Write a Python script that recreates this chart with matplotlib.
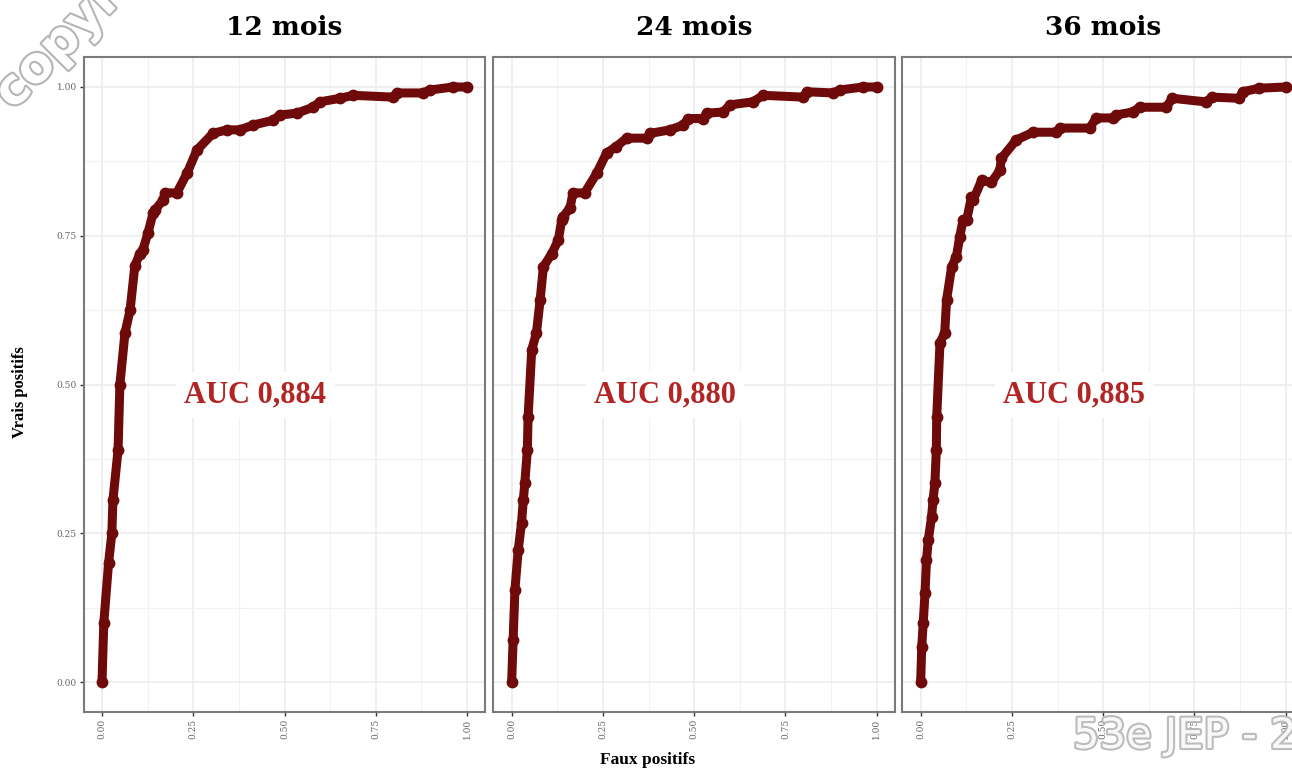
import numpy as np
import matplotlib as mpl
mpl.use('Agg')
import matplotlib.pyplot as plt
import matplotlib.patheffects as pe
from matplotlib.ticker import MultipleLocator

# ROC curves, one per follow-up horizon

titles = ['12 mois', '24 mois', '36 mois']
auc_labels = ['AUC 0,884', 'AUC 0,880', 'AUC 0,885']

fpr_12 = [0.0, 0.005, 0.018, 0.027, 0.03, 0.044, 0.049, 0.063, 0.077, 0.09, 0.104,
          0.112, 0.126, 0.14, 0.145, 0.167, 0.173, 0.205, 0.233, 0.26, 0.304,
          0.342, 0.378, 0.414, 0.468, 0.488, 0.534, 0.578, 0.597, 0.652, 0.688,
          0.797, 0.808, 0.879, 0.899, 0.962, 1.0]
tpr_12 = [0.0, 0.10, 0.20, 0.25, 0.306, 0.39, 0.50, 0.587, 0.625, 0.70, 0.72,
          0.726, 0.755, 0.788, 0.793, 0.81, 0.822, 0.822, 0.855, 0.894, 0.922,
          0.928, 0.928, 0.936, 0.944, 0.953, 0.956, 0.966, 0.975, 0.981, 0.986,
          0.983, 0.990, 0.990, 0.995, 1.0, 1.0]

fpr_24 = [0.0, 0.004, 0.009, 0.018, 0.027, 0.032, 0.036, 0.043, 0.045, 0.055,
          0.068, 0.078, 0.087, 0.11, 0.128, 0.137, 0.141, 0.16, 0.168, 0.2,
          0.233, 0.26, 0.287, 0.315, 0.37, 0.379, 0.434, 0.47, 0.484, 0.525,
          0.534, 0.58, 0.598, 0.661, 0.689, 0.799, 0.808, 0.881, 0.899, 0.963, 1.0]
tpr_24 = [0.0, 0.07, 0.155, 0.222, 0.267, 0.306, 0.334, 0.39, 0.445, 0.558,
          0.587, 0.642, 0.698, 0.72, 0.743, 0.776, 0.782, 0.797, 0.822, 0.822,
          0.855, 0.889, 0.90, 0.914, 0.914, 0.922, 0.928, 0.936, 0.947, 0.947,
          0.956, 0.958, 0.97, 0.975, 0.986, 0.983, 0.992, 0.99, 0.995, 1.0, 1.0]

fpr_36 = [0.0, 0.003, 0.007, 0.012, 0.016, 0.021, 0.03, 0.034, 0.039, 0.043,
          0.044, 0.053, 0.066, 0.071, 0.085, 0.098, 0.107, 0.116, 0.126, 0.139,
          0.144, 0.167, 0.194, 0.217, 0.221, 0.262, 0.308, 0.372, 0.381, 0.463,
          0.481, 0.526, 0.536, 0.581, 0.6, 0.672, 0.69, 0.781, 0.799, 0.873,
          0.882, 0.928, 1.0]
tpr_36 = [0.0, 0.059, 0.099, 0.15, 0.205, 0.239, 0.278, 0.306, 0.334, 0.39,
          0.445, 0.57, 0.587, 0.642, 0.698, 0.715, 0.748, 0.776, 0.776, 0.815,
          0.81, 0.843, 0.84, 0.86, 0.88, 0.911, 0.924, 0.924, 0.931, 0.931,
          0.948, 0.948, 0.953, 0.958, 0.966, 0.966, 0.981, 0.975, 0.983, 0.981,
          0.992, 0.998, 1.0]

curves = [(fpr_12, tpr_12), (fpr_24, tpr_24), (fpr_36, tpr_36)]
ticks = [0.0, 0.25, 0.5, 0.75, 1.0]
tick_labels = ['0.00', '0.25', '0.50', '0.75', '1.00']

W, H = 1292, 771
fig = plt.figure(figsize=(W / 100, H / 100), dpi=100)

curve_col = '#6e0a0a'
auc_col = '#b32424'
lefts = [83.75, 493.4, 902.4]
pw, ph = 401.5, 654.5
top = 57.25

for i, (fpr, tpr) in enumerate(curves):
    ax = fig.add_axes([lefts[i] / W, 1 - (top + ph) / H, pw / W, ph / H])
    ax.set_xlim(-0.05, 1.05)
    ax.set_ylim(-0.05, 1.05)
    ax.xaxis.set_minor_locator(MultipleLocator(0.125))
    ax.yaxis.set_minor_locator(MultipleLocator(0.125))
    ax.grid(True, which='major', color='#ebebeb', lw=1.1)
    ax.grid(True, which='minor', color='#f2f2f2', lw=0.8)
    ax.set_axisbelow(True)
    ax.tick_params(which='minor', length=0)
    ax.tick_params(which='major', length=3, width=1, color='#333333',
                   labelsize=6.5, labelcolor='#666666', pad=2)
    ax.set_xticks(ticks)
    ax.set_xticklabels(tick_labels, rotation=90, family='DejaVu Serif')
    ax.set_yticks(ticks)
    if i == 0:
        ax.set_yticklabels(tick_labels, family='DejaVu Serif')
    else:
        ax.set_yticklabels([])
        ax.tick_params(axis='y', length=0)
    for s in ax.spines.values():
        s.set_color('#7a7a7a')
        s.set_linewidth(1.5)

    ax.plot(fpr, tpr, color=curve_col, lw=6.5, solid_capstyle='round',
            solid_joinstyle='round', marker='o', ms=7.5, mec=curve_col,
            mfc=curve_col)
    ax.text(0.42, 0.482, auc_labels[i], color=auc_col, fontsize=22,
            fontweight='bold', family='Liberation Serif', ha='center', va='center',
            bbox=dict(facecolor='white', edgecolor='none', pad=6))
    ax.set_title(titles[i], fontsize=19, fontweight='bold', family='DejaVu Serif',
                 pad=16)

fig.text(20 / W, 1 - 392 / H, 'Vrais positifs', rotation=90, ha='center',
         va='center', fontsize=12, fontweight='bold', family='Liberation Serif')
fig.text(648 / W, 1 - 760 / H, 'Faux positifs', ha='center', va='center',
         fontsize=12.5, fontweight='bold', family='Liberation Serif')

# watermarks
wm = [pe.withStroke(linewidth=3, foreground='#b5b5b5')]
fig.text(-14 / W, 1 - 118 / H, 'copyright', rotation=45, ha='left', va='bottom',
         fontsize=36, fontweight='bold', color='white', path_effects=wm)
fig.text(1073 / W, 1 - 736 / H, '53e JEP - 20', ha='left', va='center',
         fontsize=30, color='white', alpha=0.9, path_effects=wm)

fig.savefig('out.png', dpi=100)
